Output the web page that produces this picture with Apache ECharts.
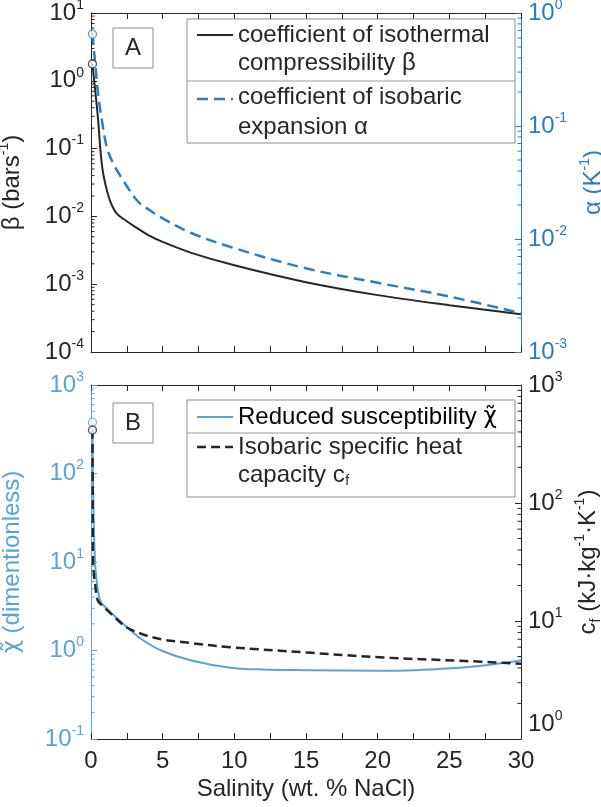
<!DOCTYPE html>
<html><head><meta charset="utf-8">
<script src="https://cdn.jsdelivr.net/npm/echarts@6/dist/echarts.min.js"></script>
<style>html,body{margin:0;padding:0;background:#fff}#c{width:601px;height:807px}</style>
</head><body><div id="c"></div>
<script>
// ---------- data ----------
const salinityBeta = [0.1,0.3,0.5,0.65,0.8,1.0,1.33,1.8,2.5,3,4,5,7,10,15,20,25,30];
const betaValues   = [1.77,0.7,0.26,0.1,0.05,0.03,0.017,0.011,0.0085,0.0072,0.0053,0.0042,0.0029,0.0019,0.00107,0.00069,0.00049,0.00036];
const salinityAlpha = [0.1,0.3,0.5,0.77,1.1,1.5,2,3.2,4,5,7,10,15,20,25,30];
const alphaValues   = [0.65,0.35,0.19,0.11,0.065,0.048,0.037,0.022,0.0183,0.0152,0.0113,0.0083,0.0055,0.0041,0.0031,0.0022];
const salinityChi = [0.1,0.12,0.15,0.2,0.28,0.4,0.5,0.7,1.1,1.7,2.48,3.5,4.9,7,9.7,12,15.1,20.4,24.4,27.1,30];
const chiValues   = [380,150,60,25,10,6,4.6,3.5,3.0,2.4,1.85,1.35,1.0,0.77,0.64,0.61,0.6,0.59,0.62,0.67,0.77];
const salinityCf = [0.1,0.12,0.14,0.2,0.28,0.47,0.85,1.4,2.45,3.5,4.9,7,9.7,15.1,20.4,25.8,30];
const cfValues   = [415,120,31,25,21,15,13.3,11.5,8.9,7.8,7.0,6.5,6.0,5.4,4.9,4.6,4.35];

const xTicks = [0,2.5,5,7.5,10,12.5,15,17.5,20,22.5,25,27.5,30];
const xTickLabels = ['0','5','10','15','20','25','30'];
const betaTicks = [1e-4,1e-3,1e-2,1e-1,1,10];
const alphaTicks = [1e-3,1e-2,1e-1,1];
const chiTicks = [0.1,1,10,100,1000];
const cfTicks = [1,10,100,1000];

// ---------- styles ----------
const FONT = '"Liberation Sans", Arial, Helvetica, sans-serif';
const GREEK = '"DejaVu Sans", sans-serif';
const DARK = '#262626';
const BLUE = '#2a7fbf';
const LBLUE = '#5aa3d8';
const FS = 24;

function pairs(xs, ys){ return xs.map((x,i)=>[x, ys[i]]); }
function supRich(color){
  return {
    b:{fontSize:FS, fontFamily:FONT, color:color, lineHeight:30},
    g:{fontSize:FS-1, fontFamily:GREEK, color:color, lineHeight:30},
    s:{fontSize:14, fontFamily:FONT, color:color, lineHeight:16, verticalAlign:'top'},
    sub:{fontSize:14, fontFamily:FONT, color:color, lineHeight:18, verticalAlign:'bottom'}
  };
}
function powLabel(v){ const e = Math.round(Math.log10(v)); return '{b|10}{s|' + e + '}'; }
function minorValues(ticks){
  const out=[];
  for(let i=0;i<ticks.length-1;i++){ for(let m=2;m<=9;m++) out.push(ticks[i]*m); }
  return out;
}

function xAxisDef(grid, pos, showLabels){
  const a = {
    type:'value', gridIndex:grid, position:pos, min:xTicks[0], max:xTicks[xTicks.length-1], interval:2.5,
    axisLine:{show:true, onZero:false, lineStyle:{color:DARK, width:1}},
    axisTick:{show:true, inside:true, length:6, lineStyle:{color:DARK}},
    splitLine:{show:false},
    axisLabel:{show:showLabels, fontSize:FS, fontFamily:FONT, color:DARK, margin:10,
      formatter:v=> (xTickLabels.indexOf(String(v))>=0 ? String(v) : '')}
  };
  if(showLabels){
    a.name='Salinity (wt. % NaCl)'; a.nameLocation='middle'; a.nameGap=38;
    a.nameTextStyle={fontSize:FS, fontFamily:FONT, color:DARK};
  }
  return a;
}
function yAxisDef(grid, pos, ticks, color, name, nameGap, extra){
  const a = {
    type:'log', logBase:10, gridIndex:grid, position:pos, min:ticks[0], max:ticks[ticks.length-1],
    axisLine:{show:true, onZero:false, lineStyle:{color:color, width:1}},
    axisTick:{show:true, inside:true, length:6, lineStyle:{color:color}},
    splitLine:{show:false},
    axisLabel:{fontSize:FS, fontFamily:FONT, color:color, margin:7, formatter:powLabel, rich:supRich(color)},
    name:name, nameLocation:'middle', nameRotate:90, nameGap:nameGap,
    nameTextStyle:{fontSize:FS, fontFamily:FONT, color:color, rich:supRich(color)}
  };
  return Object.assign(a, extra||{});
}
function minorSeries(xIdx, yIdx, ticks, xRef, dir, color){
  return {
    type:'custom', xAxisIndex:xIdx, yAxisIndex:yIdx, silent:true, clip:false, z:5,
    data: minorValues(ticks).map(v=>[xRef, v]),
    renderItem:(params, api)=>{
      const p = api.coord([api.value(0), api.value(1)]);
      return {type:'line', shape:{x1:p[0], y1:p[1], x2:p[0]+dir*3.5, y2:p[1]},
        style:{stroke:color, lineWidth:1}};
    }
  };
}

// text width helper for placing the subscript in the legend
const mctx = document.createElement('canvas').getContext('2d');
mctx.font = FS + 'px ' + FONT;
const capW = mctx.measureText('capacity c').width;

const chart = echarts.init(document.getElementById('c'), null, {renderer:'canvas'});
const T = (x,y,text,color,extra)=>({type:'text', x:x, y:y, z:100,
  style:Object.assign({text:text, font:FS+'px '+FONT, fill:color||DARK, align:'left', verticalAlign:'middle'}, extra||{})});
const RT = (x,y,text)=>({type:'text', x:x, y:y, z:100,
  style:{text:text, rich:supRich(DARK), align:'left', verticalAlign:'middle'}});
const R = (x,y,w,h)=>({type:'rect', z:90, shape:{x:x,y:y,width:w,height:h}, style:{fill:'#fff', stroke:'#8c8c8c', lineWidth:1}});
const L = (x1,y1,x2,y2,color,w,dash)=>({type:'line', z:100, shape:{x1:x1,y1:y1,x2:x2,y2:y2},
  style:{stroke:color, lineWidth:w, lineDash:dash||null}});

const lineSmooth = 0.35;
chart.setOption({
  animation:false,
  backgroundColor:'#fff',
  grid:[{left:91, top:13, width:430, height:339, containLabel:false, outerBoundsMode:'none'},
        {left:91, top:385, width:430, height:354, containLabel:false, outerBoundsMode:'none'}],
  xAxis:[xAxisDef(0,'bottom',false), xAxisDef(0,'top',false), xAxisDef(1,'bottom',true), xAxisDef(1,'top',false)],
  yAxis:[
    yAxisDef(0,'left',betaTicks,DARK,'{b|β (bars}{s|-1}{b|)}',64),
    yAxisDef(0,'right',alphaTicks,BLUE,'{b|α (K}{s|-1}{b|)}',46),
    yAxisDef(1,'left',chiTicks,LBLUE,'{g|χ\u0303}{b| (dimentionless)}',64),
    yAxisDef(1,'right',cfTicks,DARK,'{b|c}{sub|f}{b| (kJ·kg}{s|-1}{b|·K}{s|-1}{b|)}',47,
      {axisLabel:{fontSize:FS, fontFamily:FONT, color:DARK, margin:7, formatter:powLabel, rich:supRich(DARK), verticalAlignMinLabel:'bottom'}})
  ],
  series:[
    {type:'line', xAxisIndex:0, yAxisIndex:0, data:pairs(salinityBeta, betaValues), showSymbol:false, smooth:lineSmooth,
      lineStyle:{color:DARK, width:2}, z:10},
    {type:'line', xAxisIndex:0, yAxisIndex:1, data:pairs(salinityAlpha, alphaValues), showSymbol:false, smooth:lineSmooth,
      lineStyle:{color:BLUE, width:2.5, type:[11,6]}, z:10},
    {type:'scatter', xAxisIndex:0, yAxisIndex:0, data:[[salinityBeta[0], betaValues[0]]], symbolSize:8,
      itemStyle:{color:'#fff', borderColor:DARK, borderWidth:1.3}, z:12},
    {type:'scatter', xAxisIndex:0, yAxisIndex:1, data:[[salinityAlpha[0], alphaValues[0]]], symbolSize:8,
      itemStyle:{color:'#fff', borderColor:BLUE, borderWidth:1.3}, z:12},
    {type:'line', xAxisIndex:2, yAxisIndex:2, data:pairs(salinityChi, chiValues), showSymbol:false, smooth:lineSmooth,
      lineStyle:{color:LBLUE, width:2}, z:10},
    {type:'line', xAxisIndex:2, yAxisIndex:3, data:pairs(salinityCf, cfValues), showSymbol:false, smooth:lineSmooth,
      lineStyle:{color:DARK, width:2.5, type:[9,5]}, z:11},
    {type:'scatter', xAxisIndex:2, yAxisIndex:2, data:[[salinityChi[0], chiValues[0]]], symbolSize:8,
      itemStyle:{color:'#fff', borderColor:LBLUE, borderWidth:1.3}, z:12},
    {type:'scatter', xAxisIndex:2, yAxisIndex:3, data:[[salinityCf[0], cfValues[0]]], symbolSize:8,
      itemStyle:{color:'#fff', borderColor:DARK, borderWidth:1.3}, z:13},
    minorSeries(0,0,betaTicks,0,1,DARK),
    minorSeries(0,1,alphaTicks,30,-1,BLUE),
    minorSeries(2,2,chiTicks,0,1,LBLUE),
    minorSeries(2,3,cfTicks,30,-1,DARK)
  ],
  graphic:[
    // panel labels
    R(113,28,40,40), T(133,48,'A',DARK,{align:'center', font:'24px '+FONT}),
    R(113,403,40,40), T(133,423,'B',DARK,{align:'center', font:'24px '+FONT}),
    // legend A
    R(187,19,328,124), L(187,81,515,81,'#9a9a9a',1),
    L(197,35,233,35,DARK,2),
    T(238,35,'coefficient of isothermal'), T(238,63,'compressibility β'),
    L(197,99,233,99,BLUE,2.5,[11,6]),
    T(238,97,'coefficient of isobaric'), T(238,127,'expansion α'),
    // legend B
    R(187,400,328,97), L(187,433,515,433,'#9a9a9a',1),
    L(197,417,233,417,LBLUE,2),
    RT(238,417,'{b|Reduced susceptibility }{g|χ\u0303}'),
    L(197,447,233,447,DARK,2.5,[9,5]),
    T(238,447,'Isobaric specific heat'),
    T(238,475,'capacity c'),
    T(238+capW+0.5,481,'f',DARK,{font:'14px '+FONT})
  ]
});
</script></body></html>
